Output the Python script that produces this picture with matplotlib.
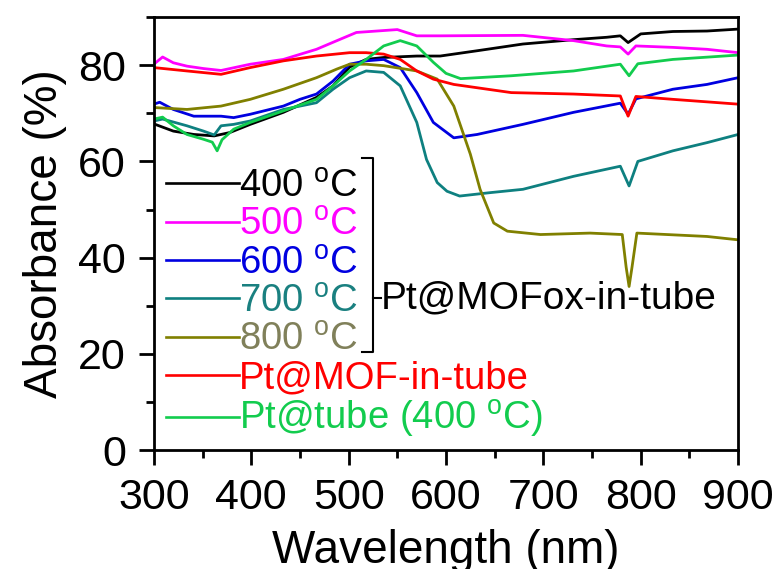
import numpy as np
import matplotlib
matplotlib.use('Agg')
import matplotlib.pyplot as plt
from matplotlib.ticker import MultipleLocator

plt.rcParams['font.family'] = ['Liberation Sans', 'DejaVu Sans']
plt.rcParams['mathtext.fontset'] = 'custom'
plt.rcParams['mathtext.rm'] = 'Liberation Sans'
plt.rcParams['axes.linewidth'] = 2.0

# ------------------------------------------------------------
# DATA
# ------------------------------------------------------------
wl_400 = [300, 320, 341, 362, 378, 399, 433, 467, 484, 501, 518, 536, 570, 594, 632,
          679, 731, 765, 779, 787, 800, 833, 868, 900]
ab_400 = [67.8, 66.3, 65.6, 65.3, 66.0, 67.7, 70.2, 73.3, 75.7, 79.6, 81.2, 81.6, 81.9,
          81.9, 83.0, 84.4, 85.3, 85.8, 86.1, 84.7, 86.5, 87.0, 87.1, 87.5]

wl_500 = [300, 309, 320, 334, 351, 369, 399, 433, 467, 488, 508, 536, 550, 570, 594,
          679, 731, 765, 779, 787, 795, 833, 868, 900]
ab_500 = [80.2, 81.7, 80.5, 79.8, 79.3, 78.9, 80.2, 81.2, 83.3, 85.1, 86.8, 87.2, 87.4,
          86.1, 86.1, 86.2, 85.1, 84.0, 83.8, 82.3, 84.0, 83.7, 83.3, 82.6]

wl_600 = [300, 306, 320, 341, 369, 382, 399, 433, 450, 467, 484, 501, 518, 536, 553,
          570, 587, 608, 632, 679, 731, 779, 787, 795, 833, 868, 900]
ab_600 = [71.9, 72.3, 70.8, 69.4, 69.4, 69.1, 69.8, 71.5, 72.9, 74.0, 76.7, 80.2, 80.9,
          81.2, 79.5, 74.3, 68.1, 64.9, 65.6, 67.7, 70.2, 72.1, 69.8, 73.0, 75.0, 76.0, 77.4]

wl_700 = [300, 309, 334, 351, 362, 369, 382, 399, 433, 467, 484, 501, 518, 536, 553,
          570, 580, 591, 601, 614, 645, 679, 731, 779, 788, 797, 833, 868, 900]
ab_700 = [68.4, 68.8, 67.4, 66.3, 65.5, 67.4, 67.7, 68.4, 70.8, 72.2, 75.0, 77.4, 78.8,
          78.5, 75.7, 68.1, 60.4, 55.6, 53.8, 52.8, 53.5, 54.2, 56.9, 59.0, 54.9, 60.0,
          62.2, 63.9, 65.6]

wl_800 = [300, 334, 369, 399, 433, 467, 488, 501, 518, 536, 570, 591, 608, 625, 635,
          649, 663, 697, 748, 781, 785, 788, 791, 796, 868, 900]
ab_800 = [71.2, 70.8, 71.5, 72.9, 75.0, 77.4, 79.2, 80.2, 80.2, 79.9, 78.8, 77.1, 71.5,
          61.5, 54.2, 47.2, 45.5, 44.8, 45.1, 44.8, 38.0, 34.0, 38.0, 45.1, 44.4, 43.7]

wl_mof = [300, 334, 369, 399, 433, 467, 501, 518, 536, 553, 570, 587, 608, 667, 731,
          779, 787, 795, 833, 900]
ab_mof = [79.5, 78.8, 78.1, 79.5, 80.9, 81.9, 82.6, 82.6, 82.3, 81.2, 78.8, 77.1, 76.0,
          74.3, 74.0, 73.6, 69.4, 73.5, 72.9, 71.9]

wl_tube = [300, 309, 320, 334, 351, 360, 365, 370, 382, 399, 433, 467, 484, 501, 518,
           536, 553, 570, 587, 600, 615, 667, 731, 779, 788, 797, 833, 900]
ab_tube = [68.8, 69.2, 67.4, 65.6, 64.6, 64.0, 62.2, 64.5, 66.7, 68.1, 70.5, 72.9, 75.7,
           78.8, 81.2, 84.0, 85.1, 84.0, 80.6, 78.3, 77.2, 77.8, 78.8, 80.2, 77.8, 80.3,
           81.2, 82.1]

series = [
    (wl_400, ab_400, '400 $\\mathregular{^o}$C', '#000000', '#000000'),
    (wl_500, ab_500, '500 $\\mathregular{^o}$C', '#FF00FF', '#FF00FF'),
    (wl_600, ab_600, '600 $\\mathregular{^o}$C', '#0000E0', '#0000E0'),
    (wl_700, ab_700, '700 $\\mathregular{^o}$C', '#0E8080', '#1A8080'),
    (wl_800, ab_800, '800 $\\mathregular{^o}$C', '#808000', '#80805A'),
    (wl_mof, ab_mof, 'Pt@MOF-in-tube', '#FF0000', '#FF0000'),
    (wl_tube, ab_tube, 'Pt@tube (400 $\\mathregular{^o}$C)', '#12CC4E', '#12CC4E'),
]

# ------------------------------------------------------------
# FIGURE
# ------------------------------------------------------------
fig = plt.figure(figsize=(7.77, 5.69), dpi=100)
ax = fig.add_axes([0.198, 0.209, 0.752, 0.761])

for wl, ab, lab, col, tcol in series:
    ax.plot(wl, ab, color=col, lw=2.0, label=lab)

ax.set_xlim(300, 900)
ax.set_ylim(0, 90)
ax.xaxis.set_major_locator(MultipleLocator(100))
ax.xaxis.set_minor_locator(MultipleLocator(50))
ax.yaxis.set_major_locator(MultipleLocator(20))
ax.yaxis.set_minor_locator(MultipleLocator(10))
ax.tick_params(which='major', direction='out', length=11, width=2.0, labelsize=31)
ax.tick_params(axis='x', which='major', pad=9)
ax.tick_params(axis='y', which='major', pad=9)
ax.tick_params(which='minor', direction='out', length=5.5, width=2.0)

ax.set_xlabel('Wavelength (nm)', fontsize=33, labelpad=8)
ax.set_ylabel('Absorbance (%)', fontsize=33, labelpad=8)

leg = ax.legend(loc='upper left', bbox_to_anchor=(-0.005, 0.685), frameon=False,
                fontsize=27.5, handlelength=1.9, handletextpad=0.0,
                labelspacing=0.06, borderaxespad=0.0)
for txt, s in zip(leg.get_texts(), series):
    txt.set_color(s[4])
for h in leg.get_lines():
    h.set_linewidth(1.9)

# bracket grouping the calcined samples
bx, by0, by1, bm = 0.375, 0.226, 0.674, 0.351
ax.plot([bx - 0.019, bx, bx, bx - 0.019], [by1, by1, by0, by0], color='black', lw=1.5,
        transform=ax.transAxes, clip_on=False)
ax.plot([bx, bx + 0.014], [bm, bm], color='black', lw=1.5, transform=ax.transAxes)
ax.text(bx + 0.014, bm, 'Pt@MOFox-in-tube', fontsize=28, va='center', ha='left',
        transform=ax.transAxes)

fig.savefig('out.png', dpi=100)
